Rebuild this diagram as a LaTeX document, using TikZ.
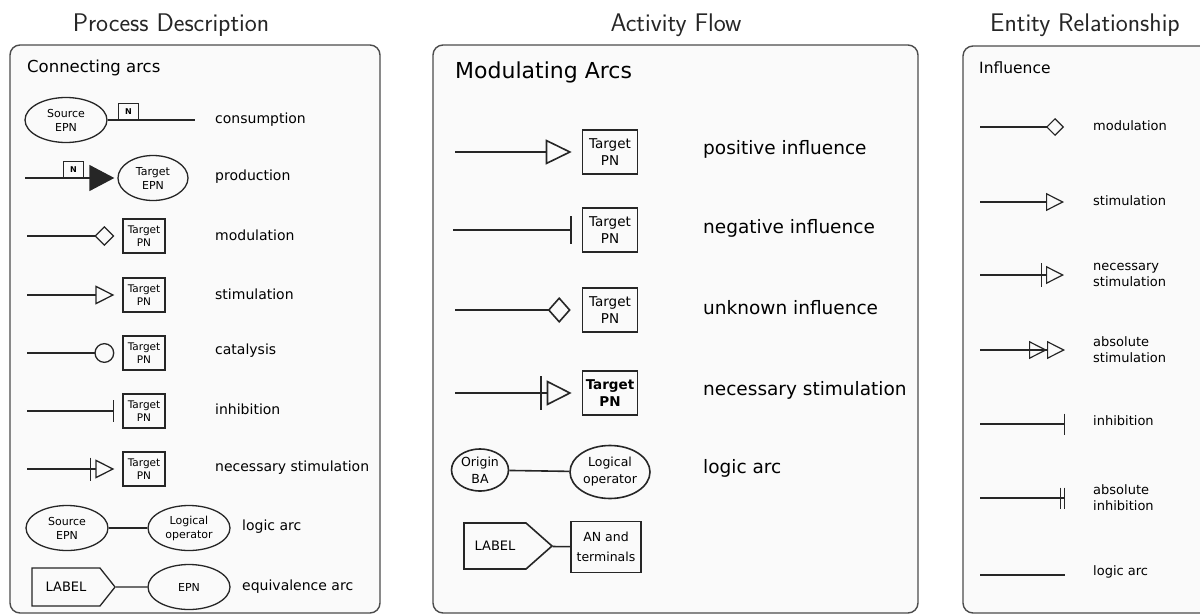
\documentclass[tikz,border=0pt]{standalone}
\usepackage{fontspec}
\setmainfont{DejaVu Sans}
\usetikzlibrary{arrows.meta,shapes.geometric,shapes.symbols}
\begin{document}
\begin{tikzpicture}[x=1pt,y=-1pt,
  ink/.style={draw=black!85},
  panel/.style={draw=black!70, line width=1.4pt, rounded corners=10pt, fill=black!2, inner sep=0pt},
  title/.style={font=\sffamily\fontsize{25.5}{30}\selectfont, text=black!85},
  % Process Description
  lhead/.style={anchor=west, inner sep=0pt, font=\fontsize{16.5}{20}\selectfont},
  ltext/.style={anchor=west, inner sep=0pt, font=\fontsize{14}{17}\selectfont},
  epn/.style={ellipse, ink, line width=1.3pt, minimum width=82pt, minimum height=45pt, inner sep=0pt, align=center, font=\fontsize{11}{14}\selectfont},
  pnbox/.style={rectangle, ink, line width=1.3pt, minimum width=42pt, minimum height=34pt, inner sep=0pt, align=center, font=\fontsize{10.5}{13.5}\selectfont},
  nbox/.style={rectangle, ink, line width=1.1pt, minimum width=20pt, minimum height=16pt, inner sep=0pt, anchor=south west, font=\bfseries\fontsize{8}{8}\selectfont},
  ltag/.style={signal, signal to=east, signal pointer angle=103, ink, line width=1.3pt, minimum width=83pt, minimum height=38pt, inner sep=0pt, font=\fontsize{13}{15}\selectfont},
  arc/.style={ink, line width=1.3pt},
  % Activity Flow
  mhead/.style={anchor=west, inner sep=0pt, font=\fontsize{22}{26}\selectfont},
  mtext/.style={anchor=west, inner sep=0pt, font=\fontsize{18.5}{22}\selectfont},
  mbox/.style={rectangle, ink, line width=1.6pt, minimum width=55pt, minimum height=44pt, inner sep=0pt, align=center, font=\fontsize{13.5}{17.5}\selectfont},
  mell/.style={ellipse, ink, line width=1.6pt, inner sep=0pt, align=center, font=\fontsize{12.5}{17}\selectfont},
  mtag/.style={signal, signal to=east, signal pointer angle=83, ink, line width=1.6pt, minimum width=88pt, minimum height=46pt, inner sep=0pt, font=\fontsize{13}{15}\selectfont},
  marc/.style={ink, line width=1.6pt},
  % Entity Relationship
  rhead/.style={anchor=west, inner sep=0pt, font=\fontsize{15.5}{18}\selectfont},
  rtext/.style={anchor=west, inner sep=0pt, align=left, font=\fontsize{13}{16}\selectfont},
  rarc/.style={ink, line width=1.2pt},
]
\clip (0,0) rectangle (1200,616);
\fill[white] (0,0) rectangle (1200,616);

% ---------------- Process Description ----------------
\node[title, anchor=base] (tpd) at (171,31) {Process Description};
\node[panel, minimum width=370pt, minimum height=568pt] (pd) at (195,329) {};
\node[lhead] (ca) at (27,68) {Connecting arcs};

% consumption
\node[epn] (s1) at (66,120) {Source\\EPN};
\node[nbox] (n1) at (118,120) {N};
\coordinate (e1) at (195,120);
\draw[arc] (s1.east) -- (e1);
\node[ltext] (l1) at (215,120) {consumption};

% production
\coordinate (b2) at (25,178);
\node[epn, minimum width=70pt] (t2) at (153,178) {Target\\EPN};
\node[nbox] (n2) at (63,178) {N};
\draw[arc, -{Triangle[length=25pt,width=26pt]}] (b2) -- ([xshift=-3pt]t2.west);
\node[ltext] (l2) at (215,177) {production};

% modulation
\node[pnbox] (t3) at (144,236) {Target\\PN};
\coordinate (b3) at (27,236);
\draw[arc, -{Diamond[open,length=20pt,width=20pt]}] (b3) -- ([xshift=-8pt]t3.west);
\node[ltext] (l3) at (215,235) {modulation};

% stimulation
\node[pnbox] (t4) at (144,295) {Target\\PN};
\coordinate (b4) at (27,295);
\draw[arc, -{Triangle[open,length=19pt,width=19pt]}] (b4) -- ([xshift=-8pt]t4.west);
\node[ltext] (l4) at (215,294) {stimulation};

% catalysis
\node[pnbox] (t5) at (144,353) {Target\\PN};
\coordinate (b5) at (27,353);
\draw[arc, -{Circle[open,length=20pt,width=20pt]}] (b5) -- ([xshift=-8pt]t5.west);
\node[ltext] (l5) at (215,351) {catalysis};

% inhibition
\node[pnbox] (t6) at (144,411) {Target\\PN};
\coordinate (b6) at (27,411);
\draw[arc, -{Bar[width=22pt]}] (b6) -- ([xshift=-8pt]t6.west);
\node[ltext] (l6) at (215,409) {inhibition};

% necessary stimulation
\node[pnbox] (t7) at (144,469) {Target\\PN};
\coordinate (b7) at (27,469);
\draw[arc, -{Bar[width=23pt,sep=4pt]Triangle[open,length=19pt,width=19pt]}] (b7) -- ([xshift=-8pt]t7.west);
\node[ltext] (l7) at (215,468) {necessary stimulation};

% logic arc
\node[epn] (s8) at (67,528) {Source\\EPN};
\node[epn] (o8) at (189,528) {Logical\\operator};
\draw[arc] (s8) -- (o8);
\node[ltext] (l8) at (242,527) {logic arc};

% equivalence arc
\node[ltag] (g9) at (66,587) {LABEL};
\node[epn] (e9) at (189,587) {EPN};
\draw[arc] (g9) -- (e9);
\node[ltext] (l9) at (242,587) {equivalence arc};

% ---------------- Activity Flow ----------------
\node[title, anchor=base] (taf) at (676,31) {Activity Flow};
\node[panel, minimum width=485pt, minimum height=568pt] (af) at (675.5,329) {};
\node[mhead] (ma) at (455,72) {Modulating Arcs};

% positive influence
\node[mbox] (u1) at (610,152) {Target\\PN};
\coordinate (a1) at (455,152);
\draw[marc, -{Triangle[open,length=26pt,width=25pt]}] (a1) -- ([xshift=-10pt]u1.west);
\node[mtext] (m1) at (703,149) {positive influence};

% negative influence
\node[mbox] (u2) at (610,230) {Target\\PN};
\coordinate (a2) at (453,230);
\draw[marc, -{Bar[width=28pt]}] (a2) -- ([xshift=-10pt]u2.west);
\node[mtext] (m2) at (703,228) {negative influence};

% unknown influence
\node[mbox] (u3) at (610,310) {Target\\PN};
\coordinate (a3) at (455,310);
\draw[marc, -{Diamond[open,length=23pt,width=26pt]}] (a3) -- ([xshift=-11pt]u3.west);
\node[mtext] (m3) at (703,308) {unknown influence};

% necessary stimulation
\node[mbox, font=\bfseries\fontsize{13.5}{17.5}\selectfont] (u4) at (610,393) {Target\\PN};
\coordinate (a4) at (455,393);
\draw[marc, -{Bar[width=34pt,sep=5pt]Triangle[open,length=25pt,width=25pt]}] (a4) -- ([xshift=-10pt]u4.west);
\node[mtext] (m4) at (703,390) {necessary stimulation};

% logic arc
\node[mell, minimum width=57pt, minimum height=42pt] (ob) at (480,470) {Origin\\BA};
\node[mell, minimum width=80pt, minimum height=53pt] (lo) at (610,472) {Logical\\operator};
\draw[marc] (ob) -- (lo);
\node[mtext] (m5) at (703,468) {logic arc};

% label and terminals
\node[mtag] (lb) at (495,546) {LABEL};
\node[mbox, minimum width=70pt, minimum height=51pt, font=\fontsize{12.5}{20}\selectfont] (an) at (606,547) {AN and\\terminals};
\draw[marc] (lb) -- (an);

% ---------------- Entity Relationship ----------------
\node[title, anchor=base] (ter) at (1085,31) {Entity Relationship};
\node[panel, minimum width=252pt, minimum height=567pt] (er) at (1089,329.5) {};
\node[rhead] (inf) at (979,68) {Influence};

% modulation
\coordinate (c1a) at (980,127);
\coordinate (c1b) at (1064,127);
\draw[rarc, -{Diamond[open,length=18pt,width=18pt]}] (c1a) -- (c1b);
\node[rtext] (r1) at (1093,126) {modulation};

% stimulation
\coordinate (c2a) at (980,202);
\coordinate (c2b) at (1064,202);
\draw[rarc, -{Triangle[open,length=18pt,width=18pt]}] (c2a) -- (c2b);
\node[rtext] (r2) at (1093,201) {stimulation};

% necessary stimulation
\coordinate (c3a) at (980,275);
\coordinate (c3b) at (1064,275);
\draw[rarc, -{Bar[width=24pt,sep=4pt]Triangle[open,length=18pt,width=18pt]}] (c3a) -- (c3b);
\node[rtext] (r3) at (1093,275) {necessary\\stimulation};

% absolute stimulation
\coordinate (c4a) at (980,350);
\coordinate (c4b) at (1065,350);
\draw[rarc, -{Triangle[open,length=18pt,width=18pt]Triangle[open,length=18pt,width=18pt]}] (c4a) -- (c4b);
\node[rtext] (r4) at (1093,350) {absolute\\stimulation};

% inhibition
\coordinate (c5a) at (980,424);
\coordinate (c5b) at (1065,424);
\draw[rarc, -{Bar[width=21pt]}] (c5a) -- (c5b);
\node[rtext] (r5) at (1093,421) {inhibition};

% absolute inhibition
\coordinate (c6a) at (980,498);
\coordinate (c6b) at (1065,498);
\draw[rarc, -{Bar[width=21pt,sep=3pt]Bar[width=21pt]}] (c6a) -- (c6b);
\node[rtext] (r6) at (1093,498) {absolute\\inhibition};

% logic arc
\coordinate (c7a) at (980,575);
\coordinate (c7b) at (1065,575);
\draw[rarc] (c7a) -- (c7b);
\node[rtext] (r7) at (1093,572) {logic arc};
\end{tikzpicture}
\end{document}
